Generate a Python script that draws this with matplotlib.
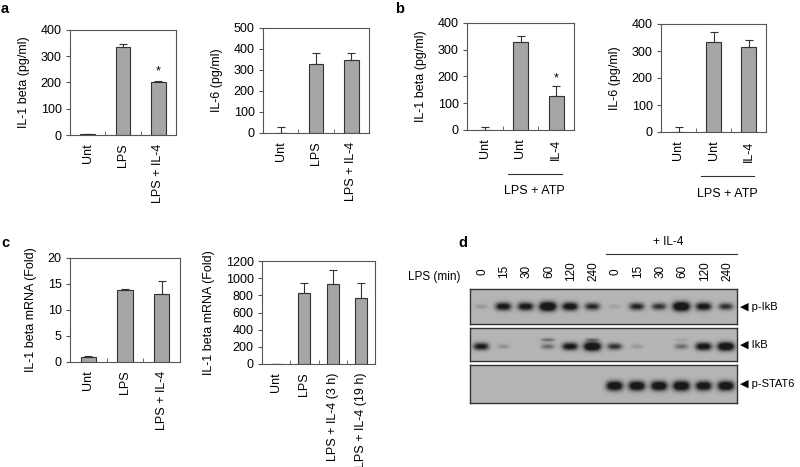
import numpy as np
import matplotlib.pyplot as plt

plt.rcParams['font.family'] = ['Liberation Sans', 'DejaVu Sans']
plt.rcParams['font.size'] = 9

# ---- data ----
cats_a = ['Unt', 'LPS', 'LPS + IL-4']
il1_a = [2, 335, 200]
il1_a_err = [2, 13, 6]
il6_a = [0, 328, 348]
il6_a_err = [29, 52, 33]

cats_b = ['Unt', 'Unt', 'IL-4']
il1_b = [0, 330, 126]
il1_b_err = [10, 22, 40]
il6_b = [0, 335, 313]
il6_b_err = [18, 35, 29]

cats_c1 = ['Unt', 'LPS', 'LPS + IL-4']
mrna_c1 = [1.0, 13.8, 13.0]
mrna_c1_err = [0.15, 0.3, 2.6]
cats_c2 = ['Unt', 'LPS', 'LPS + IL-4 (3 h)', 'LPS + IL-4 (19 h)']
mrna_c2 = [0, 832, 929, 770]
mrna_c2_err = [0, 116, 163, 178]

lanes = ['0', '15', '30', '60', '120', '240', '0', '15', '30', '60', '120', '240']
p_ikb = [0.12, 0.75, 0.75, 1.0, 0.8, 0.6, 0.08, 0.62, 0.55, 1.0, 0.75, 0.55]
ikb = [0.7, 0.15, 0.0, 0.3, 0.75, 1.0, 0.55, 0.12, 0.0, 0.3, 0.8, 0.95]
ikb_upper = [0, 0, 0, 0.35, 0, 0.3, 0, 0, 0, 0.1, 0, 0]
p_stat6 = [0, 0, 0, 0, 0, 0, 0.9, 0.9, 0.9, 0.95, 0.85, 0.9]

W, H = 800, 467
fig = plt.figure(figsize=(8, 4.67), dpi=100)


def px_axes(x0, y0, x1, y1):
    return fig.add_axes([x0 / W, 1 - y1 / H, (x1 - x0) / W, (y1 - y0) / H])


def bar_panel(ax, cats, vals, errs, ymax, step, ylabel):
    n = len(cats)
    x = np.arange(n)
    ax.bar(x, vals, width=0.42, color='#a6a6a6', edgecolor='#333333', linewidth=0.8)
    ax.errorbar(x, vals, yerr=[np.zeros(n), errs], fmt='none', ecolor='#333333',
                elinewidth=0.8, capsize=3, capthick=0.8)
    ax.set_xlim(-0.5, n - 0.5)
    ax.set_ylim(0, ymax)
    ax.set_yticks(np.arange(0, ymax + 1, step))
    ax.set_xticks(x)
    ax.set_xticklabels(cats, rotation=90)
    ax.set_xticks(np.arange(n - 1) + 0.5, minor=True)
    ax.tick_params(axis='x', which='major', length=0, pad=6)
    ax.tick_params(axis='x', which='minor', direction='in', length=3, color='#555555')
    ax.tick_params(axis='y', direction='out', length=3, color='#555555', pad=3)
    for s in ax.spines.values():
        s.set_color('#555555')
        s.set_linewidth(0.8)
    ax.set_ylabel(ylabel, labelpad=8)


def group_line(ax, x0, x1, label):
    tr = ax.get_xaxis_transform()
    ax.plot([x0, x1], [-0.41, -0.41], color='#333333', lw=0.8, transform=tr, clip_on=False)
    ax.text((x0 + x1) / 2, -0.57, label, transform=tr, ha='center', va='center')


# a
ax = px_axes(70, 30, 176, 135)
bar_panel(ax, cats_a, il1_a, il1_a_err, 400, 100, 'IL-1 beta (pg/ml)')
ax.text(2, il1_a[2] + il1_a_err[2] + 12, '*', ha='center', va='bottom', fontsize=9)
ax = px_axes(263, 28, 369, 133)
bar_panel(ax, cats_a, il6_a, il6_a_err, 500, 100, 'IL-6 (pg/ml)')

# b
ax = px_axes(467, 23, 574, 130)
bar_panel(ax, cats_b, il1_b, il1_b_err, 400, 100, 'IL-1 beta (pg/ml)')
ax.text(2, il1_b[2] + il1_b_err[2] + 5, '*', ha='center', va='bottom', fontsize=9)
group_line(ax, 0.65, 2.15, 'LPS + ATP')
ax = px_axes(661, 24, 766, 132)
bar_panel(ax, cats_b, il6_b, il6_b_err, 400, 100, 'IL-6 (pg/ml)')
group_line(ax, 0.65, 2.15, 'LPS + ATP')

# c
ax = px_axes(70, 258, 180, 362)
bar_panel(ax, cats_c1, mrna_c1, mrna_c1_err, 20, 5, 'IL-1 beta mRNA (Fold)')
ax = px_axes(262, 261, 375, 364)
bar_panel(ax, cats_c2, mrna_c2, mrna_c2_err, 1200, 200, 'IL-1 beta mRNA (Fold)')


# d: western blot strips built from band intensities
def blot_image(main, upper=None, yc=0.5):
    nx, ny = 480, 60
    xs = (np.arange(nx) + 0.5) / nx * len(main)
    ys = (np.arange(ny) + 0.5) / ny
    X, Y = np.meshgrid(xs, ys)
    dark = np.zeros_like(X)
    for i, v in enumerate(main):
        if v <= 0:
            continue
        sx = 0.26 + 0.12 * v
        sy = 0.06 + 0.07 * v
        dark += 1.6 * v * np.exp(-(np.abs(X - i - 0.5) / sx) ** 3 - ((Y - yc) / sy) ** 2)
    if upper is not None:
        for i, v in enumerate(upper):
            if v <= 0:
                continue
            dark += 1.4 * v * np.exp(-(np.abs(X - i - 0.5) / 0.3) ** 3 - ((Y - yc + 0.2) / 0.05) ** 2)
    bg = 0.71
    return bg - (bg - 0.1) * np.clip(dark, 0, 1)


strips = [
    (289, 324, blot_image(p_ikb), 'p-IkB'),
    (328, 361, blot_image(ikb, ikb_upper, yc=0.56), 'IkB'),
    (365, 403, blot_image(p_stat6, yc=0.55), 'p-STAT6'),
]
blot_axes = []
for y0, y1, img, name in strips:
    bx = px_axes(470, y0, 737, y1)
    bx.imshow(img, cmap='gray', vmin=0, vmax=1, aspect='auto',
              extent=[0, len(lanes), 1, 0], interpolation='bilinear')
    bx.set_xticks([])
    bx.set_yticks([])
    for s in bx.spines.values():
        s.set_color('#333333')
        s.set_linewidth(1.0)
    bx.text(1.01, 0.5, '\u25c0 ' + name, transform=bx.transAxes, ha='left', va='center',
            fontsize=8)
    blot_axes.append(bx)

top = blot_axes[0]
tr = top.get_xaxis_transform()
for i, lab in enumerate(lanes):
    top.text(i + 0.55, 1.5, lab, rotation=90, ha='center', va='center', transform=tr,
             fontsize=8.5)
top.text(-1.6, 1.35, 'LPS (min)', ha='center', va='center', transform=tr, fontsize=8.5)
top.plot([6.1, 12.0], [2.0, 2.0], color='#333333', lw=0.8, transform=tr, clip_on=False)
top.text(8.9, 2.33, '+ IL-4', ha='center', va='center', transform=tr, fontsize=8.5)

# panel letters
for lab, x, y in [('a', 1, 9), ('b', 395, 9), ('c', 1, 243), ('d', 458, 243)]:
    fig.text(x / W, 1 - y / H, lab, fontsize=10.5, fontweight='bold', ha='left', va='center')

plt.savefig('out.png', dpi=100)
